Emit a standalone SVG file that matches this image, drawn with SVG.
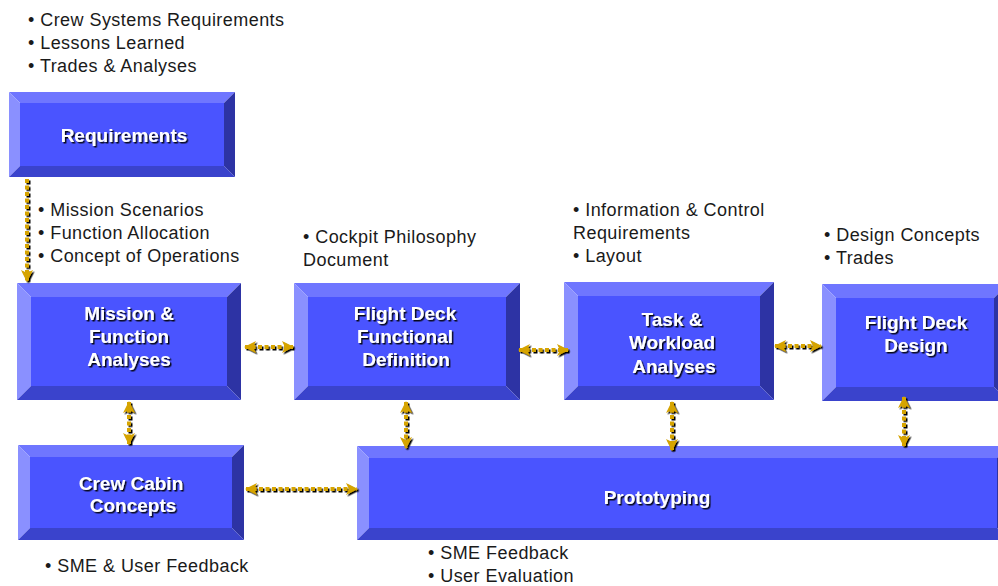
<svg xmlns="http://www.w3.org/2000/svg" width="998" height="586" viewBox="0 0 998 586">
  <defs>
    <style>
      .top { fill: #6f76ff; }
      .left { fill: #8a90ff; }
      .right { fill: #2d33a4; }
      .bottom { fill: #3a43cc; }
      .face { fill: #4a54ff; }
      .title { font-family: "Liberation Sans", Arial, sans-serif; font-weight: bold; font-size: 19px; fill: #ffffff; text-anchor: middle; filter: url(#textShadow); }
      .note { font-family: "Liberation Sans", Arial, sans-serif; font-size: 18px; letter-spacing: 0.45px; fill: #1a1a1a; }
      .link { fill: none; stroke: #d6a400; stroke-width: 4; stroke-dasharray: 4 2.5; }
    </style>
    <filter id="textShadow" x="-10%" y="-20%" width="130%" height="150%">
      <feDropShadow dx="1.5" dy="1.5" stdDeviation="0" flood-color="#000000" flood-opacity="0.9"/>
    </filter>
    <filter id="linkShadow" x="-20%" y="-20%" width="140%" height="140%">
      <feDropShadow dx="1.5" dy="1.5" stdDeviation="0" flood-color="#000000" flood-opacity="1"/>
    </filter>
    <marker id="head" markerUnits="userSpaceOnUse" markerWidth="13" markerHeight="13" refX="11" refY="6.5" orient="auto-start-reverse">
      <path d="M0,0.5 L12,6.5 L0,12.5 L3,6.5 Z" fill="#d6a400"/>
    </marker>
  </defs>

  <!-- Notes -->
  <g id="notes">
    <text class="note" x="28" y="26">• Crew Systems Requirements</text>
    <text class="note" x="28" y="49">• Lessons Learned</text>
    <text class="note" x="28" y="72">• Trades &amp; Analyses</text>

    <text class="note" x="38" y="216">• Mission Scenarios</text>
    <text class="note" x="38" y="239">• Function Allocation</text>
    <text class="note" x="38" y="262">• Concept of Operations</text>

    <text class="note" x="303" y="243">• Cockpit Philosophy</text>
    <text class="note" x="303" y="266">Document</text>

    <text class="note" x="573" y="216">• Information &amp; Control</text>
    <text class="note" x="573" y="239">Requirements</text>
    <text class="note" x="573" y="262">• Layout</text>

    <text class="note" x="824" y="241">• Design Concepts</text>
    <text class="note" x="824" y="264">• Trades</text>

    <text class="note" x="45" y="572">• SME &amp; User Feedback</text>
    <text class="note" x="428" y="559">• SME Feedback</text>
    <text class="note" x="428" y="582">• User Evaluation</text>
  </g>

  <!-- Requirements -->
  <g id="requirements">
    <rect class="face" x="20" y="103" width="204" height="63"/>
    <polygon class="top" points="9,92 235,92 224,103 20,103"/>
    <polygon class="left" points="9,92 20,103 20,166 9,177"/>
    <polygon class="right" points="235,92 235,177 224,166 224,103"/>
    <polygon class="bottom" points="9,177 235,177 224,166 20,166"/>
    <text class="title" x="124" y="142">Requirements</text>
  </g>

  <!-- Mission & Function Analyses -->
  <g id="mission-function">
    <rect class="face" x="31" y="297" width="196" height="89"/>
    <polygon class="top" points="17,283 241,283 227,297 31,297"/>
    <polygon class="left" points="17,283 31,297 31,386 17,400"/>
    <polygon class="right" points="241,283 241,400 227,386 227,297"/>
    <polygon class="bottom" points="17,400 241,400 227,386 31,386"/>
    <text class="title" x="129" y="320">Mission &amp;</text>
    <text class="title" x="129" y="343">Function</text>
    <text class="title" x="129" y="366">Analyses</text>
  </g>

  <!-- Flight Deck Functional Definition -->
  <g id="functional-definition">
    <rect class="face" x="308" y="297" width="198" height="89"/>
    <polygon class="top" points="294,283 520,283 506,297 308,297"/>
    <polygon class="left" points="294,283 308,297 308,386 294,400"/>
    <polygon class="right" points="520,283 520,400 506,386 506,297"/>
    <polygon class="bottom" points="294,400 520,400 506,386 308,386"/>
    <text class="title" x="405" y="320">Flight Deck</text>
    <text class="title" x="405" y="343">Functional</text>
    <text class="title" x="406" y="366">Definition</text>
  </g>

  <!-- Task & Workload Analyses -->
  <g id="task-workload">
    <rect class="face" x="578" y="296" width="182" height="90"/>
    <polygon class="top" points="564,282 774,282 760,296 578,296"/>
    <polygon class="left" points="564,282 578,296 578,386 564,400"/>
    <polygon class="right" points="774,282 774,400 760,386 760,296"/>
    <polygon class="bottom" points="564,400 774,400 760,386 578,386"/>
    <text class="title" x="672" y="326">Task &amp;</text>
    <text class="title" x="672" y="349">Workload</text>
    <text class="title" x="674" y="373">Analyses</text>
  </g>

  <!-- Flight Deck Design -->
  <g id="flight-deck-design">
    <rect class="face" x="836" y="298" width="158" height="89"/>
    <polygon class="top" points="822,284 1008,284 994,298 836,298"/>
    <polygon class="left" points="822,284 836,298 836,387 822,401"/>
    <polygon class="right" points="1008,284 1008,401 994,387 994,298"/>
    <polygon class="bottom" points="822,401 1008,401 994,387 836,387"/>
    <text class="title" x="916" y="329">Flight Deck</text>
    <text class="title" x="916" y="352">Design</text>
  </g>

  <!-- Crew Cabin Concepts -->
  <g id="crew-cabin">
    <rect class="face" x="30" y="457" width="202" height="71"/>
    <polygon class="top" points="18,445 244,445 232,457 30,457"/>
    <polygon class="left" points="18,445 30,457 30,528 18,540"/>
    <polygon class="right" points="244,445 244,540 232,528 232,457"/>
    <polygon class="bottom" points="18,540 244,540 232,528 30,528"/>
    <text class="title" x="131" y="490">Crew Cabin</text>
    <text class="title" x="133" y="512">Concepts</text>
  </g>

  <!-- Prototyping -->
  <g id="prototyping">
    <rect class="face" x="369" y="458" width="628" height="70"/>
    <polygon class="top" points="357,446 1009,446 997,458 369,458"/>
    <polygon class="left" points="357,446 369,458 369,528 357,540"/>
    <polygon class="right" points="1009,446 1009,540 997,528 997,458"/>
    <polygon class="bottom" points="357,540 1009,540 997,528 369,528"/>
    <text class="title" x="657" y="504">Prototyping</text>
  </g>

  <!-- Connectors -->
  <g id="connectors" filter="url(#linkShadow)">
    <path class="link" d="M27,179 L27,281" marker-end="url(#head)"/>
    <path class="link" d="M245,347 L293,347" marker-start="url(#head)" marker-end="url(#head)"/>
    <path class="link" d="M519,350 L568,350" marker-start="url(#head)" marker-end="url(#head)"/>
    <path class="link" d="M775,346 L821,346" marker-start="url(#head)" marker-end="url(#head)"/>
    <path class="link" d="M129,402 L129,444" marker-start="url(#head)" marker-end="url(#head)"/>
    <path class="link" d="M406,402 L406,448" marker-start="url(#head)" marker-end="url(#head)"/>
    <path class="link" d="M672,402 L672,450" marker-start="url(#head)" marker-end="url(#head)"/>
    <path class="link" d="M904,397 L904,446" marker-start="url(#head)" marker-end="url(#head)"/>
    <path class="link" d="M246,489 L357,489" marker-start="url(#head)" marker-end="url(#head)"/>
  </g>
</svg>
